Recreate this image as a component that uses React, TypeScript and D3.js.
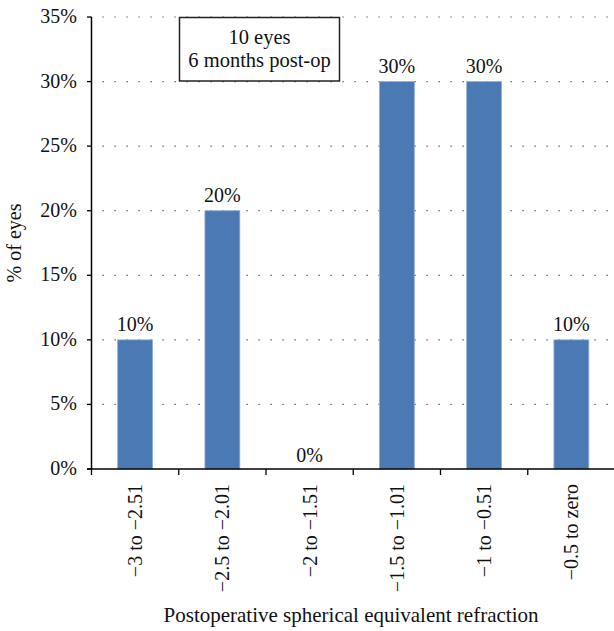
import React from "react";
import * as d3 from "d3";

const categories = ["−3 to −2.51", "−2.5 to −2.01", "−2 to −1.51", "−1.5 to −1.01", "−1 to −0.51", "−0.5 to zero"];
const values = [10, 20, 0, 30, 30, 10];
const yTicks = [0, 5, 10, 15, 20, 25, 30, 35];
const boxLines = ["10 eyes", "6 months post-op"];
const xTitle = "Postoperative spherical equivalent refraction";
const yTitle = "% of eyes";

const W = 614;
const H = 631;
const FONT = "'Liberation Serif', 'Times New Roman', serif";

export default function App() {
  const x = d3.scaleBand<string>().domain(categories).range([91.5, 615]).padding(0);
  const y = d3.scaleLinear().domain([0, 35]).range([469, 17]);
  const barW = x.bandwidth() * 0.4;
  const x0 = 91.5;
  const xEnd = 614;

  return (
    <svg width={W} height={H} style={{ position: "absolute", left: 0, top: 0, background: "#fff" }} fontFamily={FONT}>
      <rect x={0} y={0} width={W} height={H} fill="#fff" />
      {/* grid */}
      {yTicks.filter((t) => t > 0).map((t) => (
        <line key={"g" + t} x1={x0 + 11} x2={xEnd} y1={y(t)} y2={y(t)} stroke="#444" strokeWidth={1.2} strokeDasharray="1.2 10.8" />
      ))}
      {/* bars */}
      {values.map((v, i) => {
        const cx = (x(categories[i]) as number) + x.bandwidth() / 2;
        return (
          <g key={"b" + i}>
            {v > 0 && (
              <rect x={cx - barW / 2} y={y(v)} width={barW} height={y(0) - y(v)} fill="#4a79b3" stroke="#8eaed6" strokeWidth={0.8} />
            )}
            <text x={cx} y={y(v) - (v > 0 ? 9 : 7)} textAnchor="middle" fontSize={20} fill="#111">{v}%</text>
          </g>
        );
      })}
      {/* y axis */}
      <line x1={x0} x2={x0} y1={y(35)} y2={y(0)} stroke="#000" strokeWidth={1.5} />
      {yTicks.map((t) => (
        <g key={"yt" + t}>
          <line x1={x0 - 4.5} x2={x0} y1={y(t)} y2={y(t)} stroke="#000" strokeWidth={1.3} />
          <text x={77} y={y(t)} dy="0.3em" textAnchor="end" fontSize={20} fill="#111">{t}%</text>
        </g>
      ))}
      {/* x axis */}
      <line x1={x0 - 4.5} x2={xEnd} y1={y(0)} y2={y(0)} stroke="#000" strokeWidth={1.5} />
      {categories.map((c, i) => {
        const xs = x(c) as number;
        const cx = xs + x.bandwidth() / 2;
        return (
          <g key={"xt" + i}>
            <line x1={xs} x2={xs} y1={y(0)} y2={y(0) + 6} stroke="#000" strokeWidth={1.3} />
            <text transform={`translate(${cx},484) rotate(-90)`} dy="0.35em" textAnchor="end" fontSize={20} fill="#111">{c}</text>
          </g>
        );
      })}
      {/* legend box */}
      <rect x={179.5} y={17.5} width={160} height={63.5} fill="#fff" stroke="#222" strokeWidth={1.5} />
      {boxLines.map((l, i) => (
        <text key={"l" + i} x={259.5} y={44 + i * 23} textAnchor="middle" fontSize={20.5} fill="#111">{l}</text>
      ))}
      {/* titles */}
      <text x={351} y={622} textAnchor="middle" fontSize={21} fill="#111">{xTitle}</text>
      <text transform={`translate(21,243) rotate(-90)`} textAnchor="middle" fontSize={20} fill="#111">{yTitle}</text>
    </svg>
  );
}
